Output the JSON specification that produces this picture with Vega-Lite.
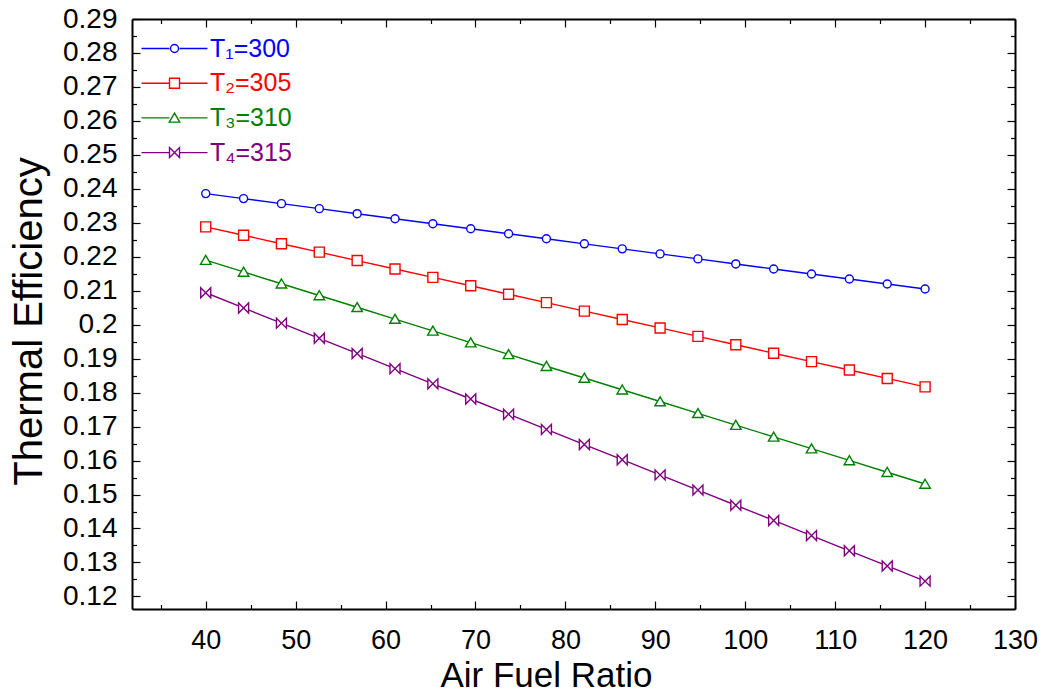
{
  "$schema": "https://vega.github.io/schema/vega-lite/v6.json",
  "width": 883,
  "height": 590,
  "autosize": {"type": "none"},
  "padding": {"left": 132, "top": 19, "right": 29, "bottom": 85},
  "background": "white",
  "config": {
    "view": {"stroke": null},
    "font": "Liberation Sans",
    "axis": {
      "domainColor": "black",
      "domainWidth": 2,
      "tickColor": "black",
      "tickWidth": 1.2,
      "grid": false,
      "labelColor": "black",
      "labelFont": "Liberation Sans",
      "labelOverlap": false,
      "labelFlush": false,
      "labelBound": false,
      "titleColor": "black",
      "titleFont": "Liberation Sans",
      "titleFontWeight": "normal"
    },
    "legend": {
      "orient": "none",
      "legendX": 30,
      "legendY": 17,
      "labelFontSize": 25,
      "labelFont": "Liberation Sans",
      "labelOffset": 23,
      "rowPadding": 8.7,
      "symbolSize": 100,
      "symbolStrokeWidth": 1.4
    }
  },
  "data": {
    "values": [
      {"afr": 40, "s": "T₁=300", "eff": 0.2386},
      {"afr": 44.21, "s": "T₁=300", "eff": 0.23712},
      {"afr": 48.42, "s": "T₁=300", "eff": 0.23564},
      {"afr": 52.63, "s": "T₁=300", "eff": 0.23416},
      {"afr": 56.84, "s": "T₁=300", "eff": 0.23268},
      {"afr": 61.05, "s": "T₁=300", "eff": 0.2312},
      {"afr": 65.26, "s": "T₁=300", "eff": 0.22973},
      {"afr": 69.47, "s": "T₁=300", "eff": 0.22825},
      {"afr": 73.68, "s": "T₁=300", "eff": 0.22677},
      {"afr": 77.89, "s": "T₁=300", "eff": 0.22529},
      {"afr": 82.11, "s": "T₁=300", "eff": 0.22381},
      {"afr": 86.32, "s": "T₁=300", "eff": 0.22233},
      {"afr": 90.53, "s": "T₁=300", "eff": 0.22085},
      {"afr": 94.74, "s": "T₁=300", "eff": 0.21937},
      {"afr": 98.95, "s": "T₁=300", "eff": 0.21789},
      {"afr": 103.16, "s": "T₁=300", "eff": 0.21641},
      {"afr": 107.37, "s": "T₁=300", "eff": 0.21494},
      {"afr": 111.58, "s": "T₁=300", "eff": 0.21346},
      {"afr": 115.79, "s": "T₁=300", "eff": 0.21198},
      {"afr": 120, "s": "T₁=300", "eff": 0.2105},
      {"afr": 40, "s": "T₂=305", "eff": 0.2288},
      {"afr": 44.21, "s": "T₂=305", "eff": 0.22632},
      {"afr": 48.42, "s": "T₂=305", "eff": 0.22384},
      {"afr": 52.63, "s": "T₂=305", "eff": 0.22136},
      {"afr": 56.84, "s": "T₂=305", "eff": 0.21888},
      {"afr": 61.05, "s": "T₂=305", "eff": 0.2164},
      {"afr": 65.26, "s": "T₂=305", "eff": 0.21393},
      {"afr": 69.47, "s": "T₂=305", "eff": 0.21145},
      {"afr": 73.68, "s": "T₂=305", "eff": 0.20897},
      {"afr": 77.89, "s": "T₂=305", "eff": 0.20649},
      {"afr": 82.11, "s": "T₂=305", "eff": 0.20401},
      {"afr": 86.32, "s": "T₂=305", "eff": 0.20153},
      {"afr": 90.53, "s": "T₂=305", "eff": 0.19905},
      {"afr": 94.74, "s": "T₂=305", "eff": 0.19657},
      {"afr": 98.95, "s": "T₂=305", "eff": 0.19409},
      {"afr": 103.16, "s": "T₂=305", "eff": 0.19161},
      {"afr": 107.37, "s": "T₂=305", "eff": 0.18914},
      {"afr": 111.58, "s": "T₂=305", "eff": 0.18666},
      {"afr": 115.79, "s": "T₂=305", "eff": 0.18418},
      {"afr": 120, "s": "T₂=305", "eff": 0.1817},
      {"afr": 40, "s": "T₃=310", "eff": 0.219},
      {"afr": 44.21, "s": "T₃=310", "eff": 0.21553},
      {"afr": 48.42, "s": "T₃=310", "eff": 0.21206},
      {"afr": 52.63, "s": "T₃=310", "eff": 0.2086},
      {"afr": 56.84, "s": "T₃=310", "eff": 0.20513},
      {"afr": 61.05, "s": "T₃=310", "eff": 0.20166},
      {"afr": 65.26, "s": "T₃=310", "eff": 0.19819},
      {"afr": 69.47, "s": "T₃=310", "eff": 0.19472},
      {"afr": 73.68, "s": "T₃=310", "eff": 0.19125},
      {"afr": 77.89, "s": "T₃=310", "eff": 0.18778},
      {"afr": 82.11, "s": "T₃=310", "eff": 0.18432},
      {"afr": 86.32, "s": "T₃=310", "eff": 0.18085},
      {"afr": 90.53, "s": "T₃=310", "eff": 0.17738},
      {"afr": 94.74, "s": "T₃=310", "eff": 0.17391},
      {"afr": 98.95, "s": "T₃=310", "eff": 0.17044},
      {"afr": 103.16, "s": "T₃=310", "eff": 0.16697},
      {"afr": 107.37, "s": "T₃=310", "eff": 0.16351},
      {"afr": 111.58, "s": "T₃=310", "eff": 0.16004},
      {"afr": 115.79, "s": "T₃=310", "eff": 0.15657},
      {"afr": 120, "s": "T₃=310", "eff": 0.1531},
      {"afr": 40, "s": "T₄=315", "eff": 0.2094},
      {"afr": 44.21, "s": "T₄=315", "eff": 0.20493},
      {"afr": 48.42, "s": "T₄=315", "eff": 0.20046},
      {"afr": 52.63, "s": "T₄=315", "eff": 0.196},
      {"afr": 56.84, "s": "T₄=315", "eff": 0.19153},
      {"afr": 61.05, "s": "T₄=315", "eff": 0.18706},
      {"afr": 65.26, "s": "T₄=315", "eff": 0.18259},
      {"afr": 69.47, "s": "T₄=315", "eff": 0.17812},
      {"afr": 73.68, "s": "T₄=315", "eff": 0.17365},
      {"afr": 77.89, "s": "T₄=315", "eff": 0.16918},
      {"afr": 82.11, "s": "T₄=315", "eff": 0.16472},
      {"afr": 86.32, "s": "T₄=315", "eff": 0.16025},
      {"afr": 90.53, "s": "T₄=315", "eff": 0.15578},
      {"afr": 94.74, "s": "T₄=315", "eff": 0.15131},
      {"afr": 98.95, "s": "T₄=315", "eff": 0.14684},
      {"afr": 103.16, "s": "T₄=315", "eff": 0.14237},
      {"afr": 107.37, "s": "T₄=315", "eff": 0.13791},
      {"afr": 111.58, "s": "T₄=315", "eff": 0.13344},
      {"afr": 115.79, "s": "T₄=315", "eff": 0.12897},
      {"afr": 120, "s": "T₄=315", "eff": 0.1245}
    ]
  },
  "layer": [
    {
      "mark": {"type": "line", "strokeWidth": 1.4},
      "encoding": {
        "x": {
          "field": "afr",
          "type": "quantitative",
          "scale": {"domain": [31.8, 130], "nice": false, "zero": false},
          "axis": {
            "orient": "bottom",
            "values": [35, 40, 45, 50, 55, 60, 65, 70, 75, 80, 85, 90, 95, 100, 105, 110, 115, 120, 125, 130],
            "tickSize": {"condition": {"test": "datum.value % 10 === 0", "value": -8}, "value": -4.5},
            "labelExpr": "datum.value % 10 === 0 ? datum.label : ''",
            "labelFontSize": 27,
            "labelPadding": 26,
            "title": "Air Fuel Ratio",
            "titleFontSize": 35,
            "titleX": 414,
            "titleY": 77,
            "titleBaseline": "alphabetic"
          }
        },
        "y": {
          "field": "eff",
          "type": "quantitative",
          "scale": {"domain": [0.1163, 0.29], "nice": false, "zero": false},
          "axis": {
            "orient": "left",
            "values": [0.12, 0.125, 0.13, 0.135, 0.14, 0.145, 0.15, 0.155, 0.16, 0.165, 0.17, 0.175, 0.18, 0.185, 0.19, 0.195, 0.2, 0.205, 0.21, 0.215, 0.22, 0.225, 0.23, 0.235, 0.24, 0.245, 0.25, 0.255, 0.26, 0.265, 0.27, 0.275, 0.28, 0.285, 0.29],
            "tickSize": {"condition": {"test": "round(datum.value * 1000) % 10 === 0", "value": -8}, "value": -4.5},
            "labelExpr": "round(datum.value * 1000) % 10 === 0 ? format(datum.value, '.2~f') : ''",
            "labelFontSize": 28,
            "labelPadding": 23,
            "title": "Thermal Efficiency",
            "titleFontSize": 40,
            "titleAngle": -90,
            "titleX": -91,
            "titleY": 302,
            "titleAlign": "center",
            "titleBaseline": "alphabetic"
          }
        },
        "color": {
          "field": "s",
          "type": "nominal",
          "scale": {
            "domain": ["T₁=300", "T₂=305", "T₃=310", "T₄=315"],
            "range": ["#0000ff", "#ff0000", "#008000", "#800080"]
          },
          "legend": {
            "title": null,
            "symbolType": "M-6.6,0L-1,0M1,0L6.6,0",
            "encode": {
              "labels": {
                "update": {"fill": {"signal": "scale('color', datum.value)"}}
              }
            }
          }
        }
      }
    },
    {
      "mark": {"type": "point", "filled": false, "fill": "white", "fillOpacity": 1, "opacity": 1, "strokeWidth": 1.4, "size": 100},
      "encoding": {
        "x": {
          "field": "afr",
          "type": "quantitative",
          "axis": {
            "orient": "top",
            "values": [35, 40, 45, 50, 55, 60, 65, 70, 75, 80, 85, 90, 95, 100, 105, 110, 115, 120, 125, 130],
            "tickSize": {"condition": {"test": "datum.value % 10 === 0", "value": -8}, "value": -4.5},
            "labels": false,
            "title": null
          }
        },
        "y": {
          "field": "eff",
          "type": "quantitative",
          "axis": {
            "orient": "right",
            "values": [0.12, 0.125, 0.13, 0.135, 0.14, 0.145, 0.15, 0.155, 0.16, 0.165, 0.17, 0.175, 0.18, 0.185, 0.19, 0.195, 0.2, 0.205, 0.21, 0.215, 0.22, 0.225, 0.23, 0.235, 0.24, 0.245, 0.25, 0.255, 0.26, 0.265, 0.27, 0.275, 0.28, 0.285, 0.29],
            "tickSize": {"condition": {"test": "round(datum.value * 1000) % 10 === 0", "value": -8}, "value": -4.5},
            "labels": false,
            "title": null
          }
        },
        "stroke": {
          "field": "s",
          "type": "nominal",
          "scale": {"range": ["#0000ff", "#ff0000", "#008000", "#800080"]},
          "legend": {"title": null, "labelOpacity": 0, "symbolFillColor": "white"}
        },
        "shape": {
          "field": "s",
          "type": "nominal",
          "scale": {
            "range": [
              "M0.8,0A0.8,0.8,0,1,1,-0.8,0A0.8,0.8,0,1,1,0.8,0Z",
              "M-1,-1L1,-1L1,1L-1,1Z",
              "M0,-0.95L1.05,0.85L-1.05,0.85Z",
              "M-1,-1L1,1L1,-1L-1,1Z"
            ]
          },
          "legend": {"title": null, "labelOpacity": 0, "symbolFillColor": "white"}
        }
      }
    }
  ],
  "resolve": {"axis": {"x": "independent", "y": "independent"}}
}
